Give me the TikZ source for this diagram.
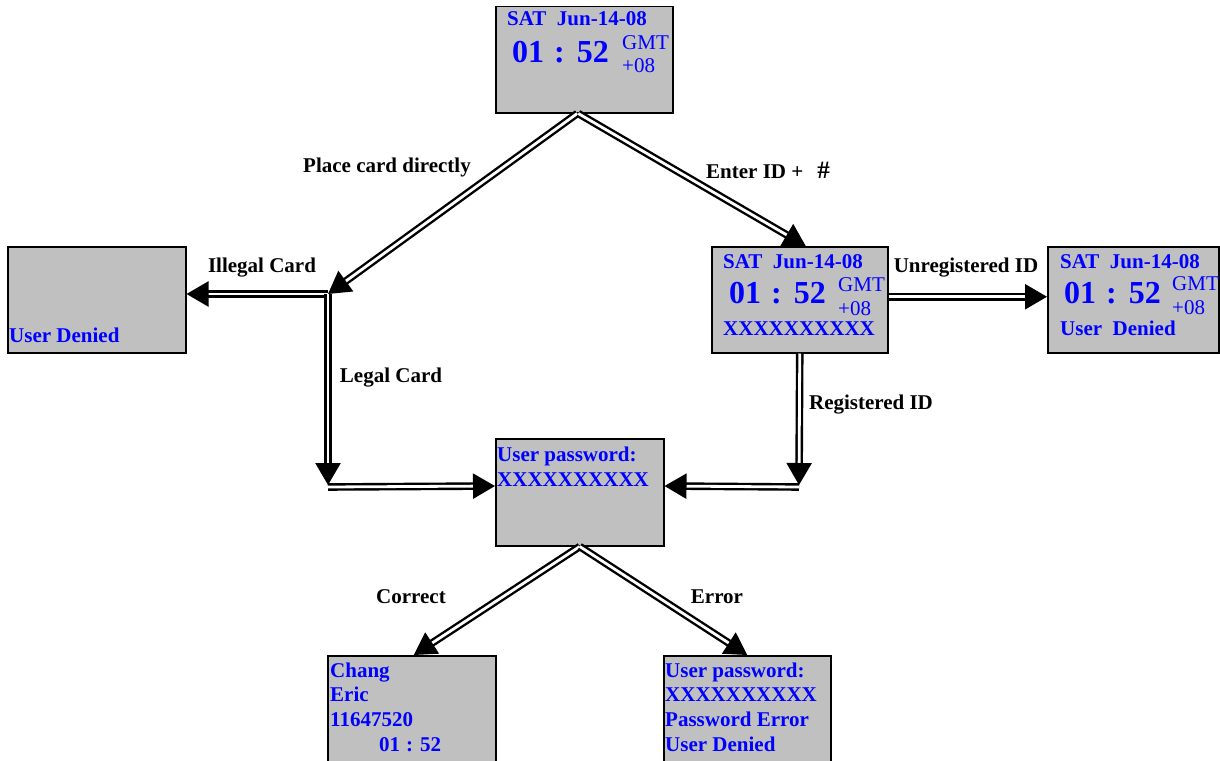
\documentclass[tikz,border=0pt]{standalone}
\usepackage{fontspec}
\setmainfont{Liberation Serif}
\usetikzlibrary{arrows.meta}
\definecolor{lcdgray}{RGB}{192,192,192}
\definecolor{lcdblue}{RGB}{0,0,255}
\tikzset{
  screen/.style={draw=black, line width=1.5pt, fill=lcdgray, anchor=north west, inner sep=0pt},
  scr/.style={text=lcdblue, font=\bfseries\fontsize{21}{24}\selectfont, anchor=base west, inner sep=0pt},
  big/.style={scr, font=\bfseries\fontsize{32}{36}\selectfont},
  gmt/.style={scr, font=\fontsize{21}{24}\selectfont},
  lbl/.style={font=\bfseries\fontsize{21}{24}\selectfont, inner sep=0pt},
  dbl/.style={double, double distance=2.8pt, line width=2.4pt, -{Triangle[length=22pt,width=25pt]}},
}
\begin{document}
\begin{tikzpicture}[x=1pt, y=-1pt]
    \useasboundingbox (0,0) rectangle (1220,760);
    \clip (0,0) rectangle (1220,760);

    \begin{scope}
        \node[screen, minimum width=177pt, minimum height=106pt] (top) at (495,6) {};
        \node[scr] (topdate) at (507,26) {SAT\ \ Jun-14-08};
        \node[big] (toptime) at (512,63) {01\hspace{10pt}:\hspace{12pt}52};
        \node[gmt] (topgmt) at (622,49) {GMT};
        \node[gmt] (topzone) at (622,73) {+08};
    \end{scope}

    \begin{scope}
        \node[screen, minimum width=178pt, minimum height=106pt] (deny) at (7,246) {};
        \node[scr] (denytxt) at (9,342) {User Denied};
    \end{scope}

    \begin{scope}
        \node[screen, minimum width=176pt, minimum height=106pt] (mid) at (711,246) {};
        \node[scr] (middate) at (723,268) {SAT\ \ Jun-14-08};
        \node[big] (midtime) at (729,303) {01\hspace{10pt}:\hspace{12pt}52};
        \node[gmt] (midgmt) at (838,291) {GMT};
        \node[gmt] (midzone) at (838,315) {+08};
        \node[scr] (midid) at (723,335) {XXXXXXXXXX};
    \end{scope}

    \begin{scope}
        \node[screen, minimum width=171pt, minimum height=106pt] (far) at (1047,246) {};
        \node[scr] (fardate) at (1060,268) {SAT\ \ Jun-14-08};
        \node[big] (fartime) at (1064,303) {01\hspace{10pt}:\hspace{12pt}52};
        \node[gmt] (fargmt) at (1172,290) {GMT};
        \node[gmt] (farzone) at (1172,314) {+08};
        \node[scr] (fartxt) at (1060,335) {User\ \ Denied};
    \end{scope}

    \begin{scope}
        \node[screen, minimum width=168pt, minimum height=107pt] (pwd) at (495,438) {};
        \node[scr] (pwdtxt) at (497,461) {User password:};
        \node[scr] (pwdx) at (497,486) {XXXXXXXXXX};
    \end{scope}

    \begin{scope}
        \node[screen, minimum width=168pt, minimum height=120pt] (ok) at (327,655) {};
        \node[scr] (okname) at (330,677) {Chang};
        \node[scr] (okfirst) at (330,701) {Eric};
        \node[scr] (oknum) at (330,726) {11647520};
        \node[scr] (oktime) at (379,751) {01\hspace{6pt}:\hspace{7pt}52};
    \end{scope}

    \begin{scope}
        \node[screen, minimum width=167pt, minimum height=120pt] (err) at (663,655) {};
        \node[scr] (errpwd) at (665,677) {User password:};
        \node[scr] (errx) at (665,701) {XXXXXXXXXX};
        \node[scr] (errmsg) at (665,726) {Password Error};
        \node[scr] (errtxt) at (665,751) {User Denied};
    \end{scope}

    \coordinate (jL) at (328,294);
    \coordinate (cL) at (328,486);
    \coordinate (cR) at (799,486);

    \draw[dbl] ([xshift=-7pt]top.south) -- (jL);
    \draw[dbl] ([xshift=-6pt]top.south) -- ([xshift=6pt]mid.north);
    \draw[dbl] (jL) -- (deny.east |- jL);
    \draw[dbl] (jL) -- ([yshift=1pt]cL);
    \draw[dbl] ([yshift=-1pt]cL) -- (pwd.west |- cL);
    \draw[dbl] (mid.south) -- ([yshift=1pt]cR);
    \draw[dbl] ([yshift=-1pt]cR) -- (pwd.east |- cR);
    \draw[dbl] ([yshift=3pt]mid.east) -- ([yshift=3pt]far.west);
    \draw[dbl] (pwd.south) -- ([xshift=2pt]ok.north);
    \draw[dbl] (pwd.south) -- (err.north);

    \node[lbl] (lplace) at (387,167) {Place card directly};
    \node[lbl] (lenter) at (768,170) {Enter ID +\hspace{14pt}{\fontsize{25}{28}\selectfont\#}};
    \node[lbl] (lillegal) at (262,268) {Illegal Card};
    \node[lbl] (llegal) at (391,378) {Legal Card};
    \node[lbl] (lunreg) at (966,268) {Unregistered ID};
    \node[lbl] (lreg) at (871,405) {Registered ID};
    \node[lbl] (lok) at (411,597) {Correct};
    \node[lbl] (lerr) at (717,597) {Error};
\end{tikzpicture}
\end{document}
